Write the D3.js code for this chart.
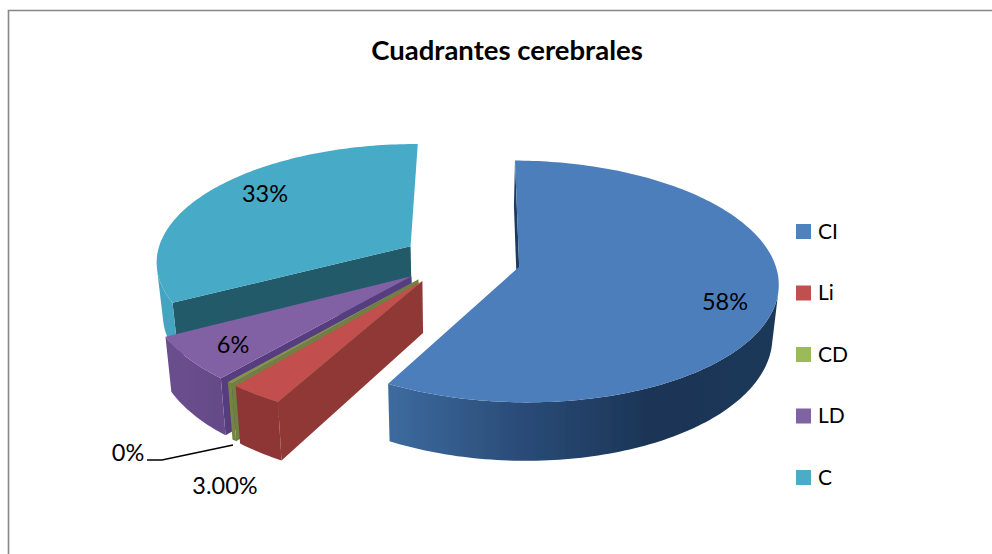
<!DOCTYPE html>
<html><head><meta charset="utf-8">
<script src="https://cdn.jsdelivr.net/npm/d3@7/dist/d3.min.js"></script>
<style>html,body{margin:0;padding:0;background:#fff}svg{display:block}text{font-family:Lato,"Open Sans",sans-serif;fill:#000}</style>
</head><body><svg id="c" width="992" height="554"></svg>
<script>
// data
const categories = ["CI", "Li", "CD", "LD", "C"];
const values = [58, 3, 0.3, 6, 33];
const valueLabels = ["58%", "3.00%", "0%", "6%", "33%"];
const title = "Cuadrantes cerebrales";
// styles
const topColors = ["#4d7ebc", "#c24f4d", "#85924f", "#8260a4", "#47aac6"];
const legendColors = ["#4f81bd", "#c0504d", "#9bbb59", "#8064a2", "#4bacc6"];
const radialColors = ["#1c3a5e", "#8f3836", "#6f8040", "#573c80", "#215a6b"];
const wallStops = [["#3d6b9f", "#2a4c78", "#1b3556", "#1c3859"], ["#8e3634", "#8e3634"], ["#74853e", "#74853e"], ["#6b4f8e", "#654a88"], ["#44a5c0", "#44a5c0"]];
const labelPos = [[725, 302], [225, 486], [128, 453], [233, 345], [265, 194]];
const leader = [[147, 460], [162, 460], [233, 445]];
const nudge = [[1, 0], [-5, -2], [-4, -2], [-3, -1], [-1, 0]];

const CX = 461, CY = 260, RX = 255, RY = 117.5, K = 0.12, EXPLODE = 0.23, H = 51, SHRINK = 0.98;
const svg = d3.select("#c");
const defs = svg.append("defs");
defs.append("filter").attr("id", "soft").append("feGaussianBlur").attr("stdDeviation", 0.55);

// frame
svg.append("path").attr("d", "M8.5 554V10.5H992").attr("fill", "none").attr("stroke", "#868686").attr("stroke-width", 1.6);

const start = 0.5 * Math.PI / 180;
const arcs = d3.pie().sort(null).startAngle(start).endAngle(start + 2 * Math.PI)(values);
const line = d3.line().x(d => d[0]).y(d => d[1]);
const closed = pts => line(pts) + "Z";

// world plane -> screen, with one perspective for the whole pie
const project = (U, V, n) => {
  const s = 1 / (1 + K * V);
  return { top: [CX + n[0] + RX * U * s, CY + n[1] - RY * V * s],
           bot: [CX + n[0] + RX * U * s * SHRINK, CY + n[1] - RY * V * s + H * s] };
};

const pie = svg.append("g").attr("filter", "url(#soft)");
[4, 3, 2, 1, 0].forEach(i => {
  const d = arcs[i], mid = (d.startAngle + d.endAngle) / 2;
  const ou = EXPLODE * Math.sin(mid), ov = EXPLODE * Math.cos(mid);
  const at = a => project(ou + Math.sin(a), ov + Math.cos(a), nudge[i]);
  const apex = project(ou, ov, nudge[i]);
  const n = Math.max(4, Math.ceil((d.endAngle - d.startAngle) / 0.02));
  const angles = d3.range(n + 1).map(k => d.startAngle + (d.endAngle - d.startAngle) * k / n);
  const rim = angles.map(at);

  const gid = "wall" + i, xs = d3.extent(rim, p => p.top[0]);
  const g = defs.append("linearGradient").attr("id", gid).attr("gradientUnits", "userSpaceOnUse")
    .attr("x1", xs[0]).attr("x2", xs[1]).attr("y1", 0).attr("y2", 0);
  wallStops[i].forEach((c, k, all) => g.append("stop").attr("offset", k / (all.length - 1)).attr("stop-color", c));

  // radial face on the clockwise-start side of the slice
  const s0 = [apex.top, rim[0].top, rim[0].bot, apex.bot];
  if (d3.polygonArea(s0) > 0)
    pie.append("path").attr("d", closed(s0)).attr("fill", radialColors[i]);

  // outer wall: contiguous runs of front-facing steps as one path each
  let run = [];
  const flush = () => {
    if (run.length > 1) {
      const wall = [...run.map(p => p.top), ...run.slice().reverse().map(p => p.bot)];
      pie.append("path").attr("d", closed(wall)).attr("fill", `url(#${gid})`);
    }
    run = [];
  };
  d3.range(n).forEach(k => {
    const q = [rim[k].top, rim[k + 1].top, rim[k + 1].bot, rim[k].bot];
    if (d3.polygonArea(q) > 0) {
      if (!run.length) run.push(rim[k]);
      run.push(rim[k + 1]);
    } else flush();
  });
  flush();

  pie.append("path").attr("d", closed([apex.top, ...rim.map(p => p.top)])).attr("fill", topColors[i]);
});

// leader line
svg.append("path").attr("d", line(leader)).attr("fill", "none").attr("stroke", "#000").attr("stroke-width", 1.5);

// value labels
svg.selectAll(".v").data(valueLabels).join("text").attr("class", "v")
  .attr("x", (d, i) => labelPos[i][0]).attr("y", (d, i) => labelPos[i][1] + 8)
  .attr("text-anchor", "middle").attr("font-size", 23.5).text(d => d);

// title
svg.append("text").attr("x", 507).attr("y", 60).attr("text-anchor", "middle")
  .attr("font-size", 27.5).attr("font-weight", 700).text(title);

// legend
const ly = d3.scalePoint().domain(categories).range([231.5, 477.5]);
svg.selectAll(".ls").data(categories).join("rect").attr("class", "ls")
  .attr("x", 796).attr("y", d => ly(d) - 7.5).attr("width", 15).attr("height", 15)
  .attr("fill", (d, i) => legendColors[i]);
svg.selectAll(".lt").data(categories).join("text").attr("class", "lt")
  .attr("x", 818).attr("y", d => ly(d) + 7).attr("font-size", 21).text(d => d);
</script></body></html>
